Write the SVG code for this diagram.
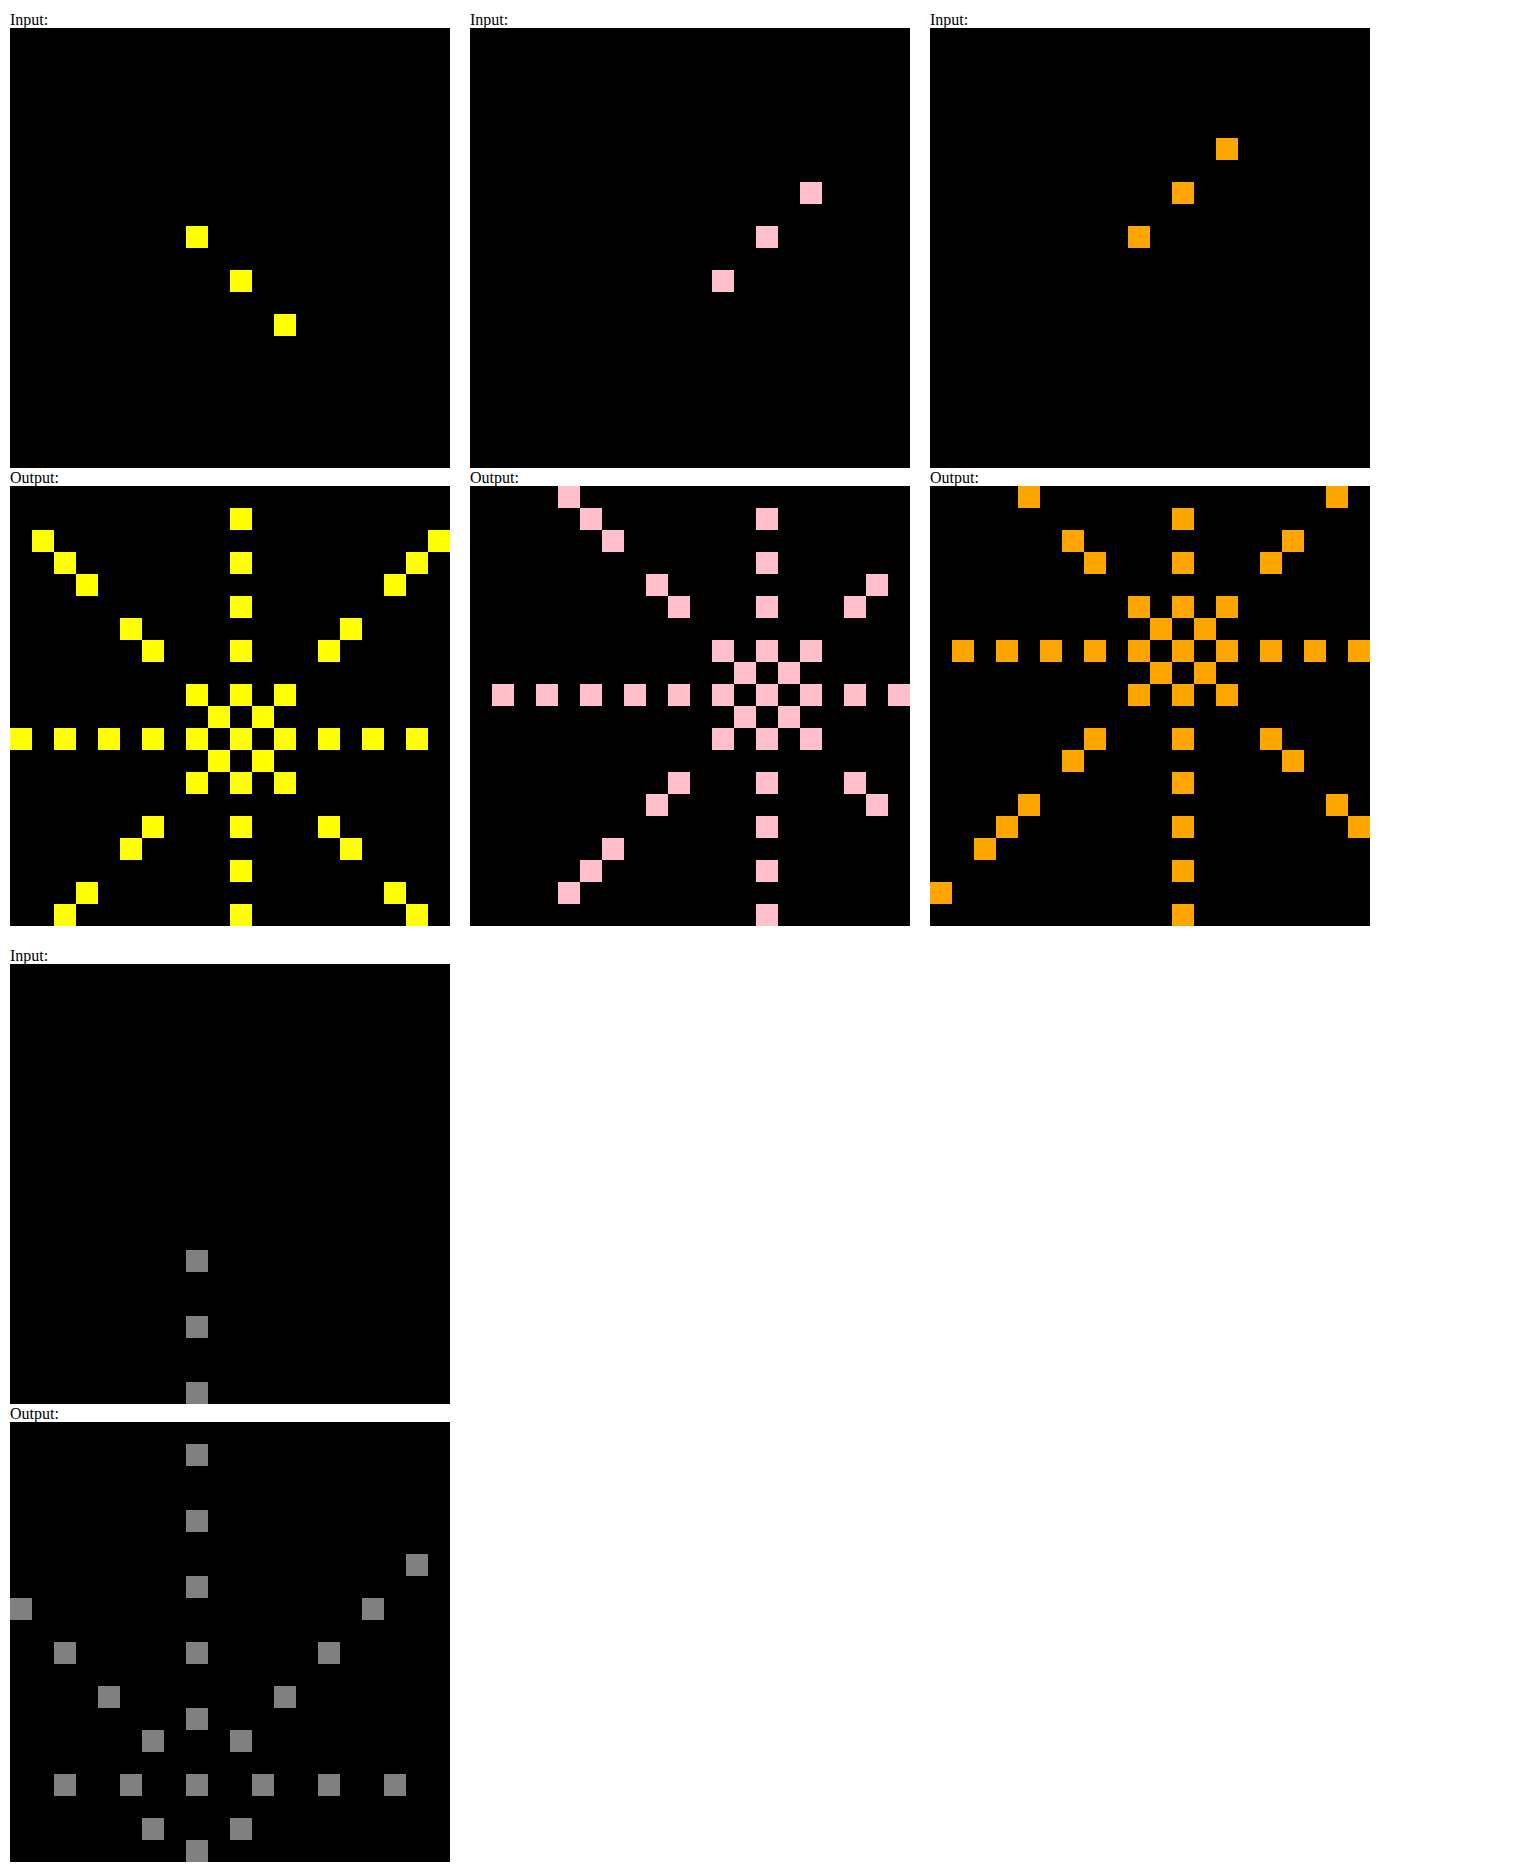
<svg xmlns="http://www.w3.org/2000/svg" width="1520" height="1872" viewBox="0 0 1520 1872">
<style>
.lbl{font-family:"Liberation Serif","Times New Roman",serif;font-size:16px;fill:#000}
.bg{fill:#000}
.y{fill:#ffff00}
.p{fill:#ffc0cb}
.o{fill:#ffa500}
.g{fill:#808080}
</style>
<defs><rect id="c" width="22" height="22"/></defs>
<rect width="1520" height="1872" fill="#fff"/>

<g id="ex1-input">
<text class="lbl" x="10" y="25">Input:</text>
<g transform="translate(10,28)" class="y">
<rect class="bg" width="440" height="440"/>
<use href="#c" x="176" y="198"/><use href="#c" x="220" y="242"/><use href="#c" x="264" y="286"/>
</g>
</g>

<g id="ex1-output">
<text class="lbl" x="10" y="483">Output:</text>
<g transform="translate(10,486)" class="y">
<rect class="bg" width="440" height="440"/>
<use href="#c" x="220" y="22"/>
<use href="#c" x="22" y="44"/><use href="#c" x="418" y="44"/>
<use href="#c" x="44" y="66"/><use href="#c" x="220" y="66"/><use href="#c" x="396" y="66"/>
<use href="#c" x="66" y="88"/><use href="#c" x="374" y="88"/>
<use href="#c" x="220" y="110"/>
<use href="#c" x="110" y="132"/><use href="#c" x="330" y="132"/>
<use href="#c" x="132" y="154"/><use href="#c" x="220" y="154"/><use href="#c" x="308" y="154"/>
<use href="#c" x="176" y="198"/><use href="#c" x="220" y="198"/><use href="#c" x="264" y="198"/>
<use href="#c" x="198" y="220"/><use href="#c" x="242" y="220"/>
<use href="#c" x="0" y="242"/><use href="#c" x="44" y="242"/><use href="#c" x="88" y="242"/><use href="#c" x="132" y="242"/><use href="#c" x="176" y="242"/><use href="#c" x="220" y="242"/><use href="#c" x="264" y="242"/><use href="#c" x="308" y="242"/><use href="#c" x="352" y="242"/><use href="#c" x="396" y="242"/>
<use href="#c" x="198" y="264"/><use href="#c" x="242" y="264"/>
<use href="#c" x="176" y="286"/><use href="#c" x="220" y="286"/><use href="#c" x="264" y="286"/>
<use href="#c" x="132" y="330"/><use href="#c" x="220" y="330"/><use href="#c" x="308" y="330"/>
<use href="#c" x="110" y="352"/><use href="#c" x="330" y="352"/>
<use href="#c" x="220" y="374"/>
<use href="#c" x="66" y="396"/><use href="#c" x="374" y="396"/>
<use href="#c" x="44" y="418"/><use href="#c" x="220" y="418"/><use href="#c" x="396" y="418"/>
</g>
</g>

<g id="ex2-input">
<text class="lbl" x="470" y="25">Input:</text>
<g transform="translate(470,28)" class="p">
<rect class="bg" width="440" height="440"/>
<use href="#c" x="330" y="154"/><use href="#c" x="286" y="198"/><use href="#c" x="242" y="242"/>
</g>
</g>

<g id="ex2-output">
<text class="lbl" x="470" y="483">Output:</text>
<g transform="translate(470,486)" class="p">
<rect class="bg" width="440" height="440"/>
<use href="#c" x="88" y="0"/>
<use href="#c" x="110" y="22"/><use href="#c" x="286" y="22"/>
<use href="#c" x="132" y="44"/>
<use href="#c" x="286" y="66"/>
<use href="#c" x="176" y="88"/><use href="#c" x="396" y="88"/>
<use href="#c" x="198" y="110"/><use href="#c" x="286" y="110"/><use href="#c" x="374" y="110"/>
<use href="#c" x="242" y="154"/><use href="#c" x="286" y="154"/><use href="#c" x="330" y="154"/>
<use href="#c" x="264" y="176"/><use href="#c" x="308" y="176"/>
<use href="#c" x="22" y="198"/><use href="#c" x="66" y="198"/><use href="#c" x="110" y="198"/><use href="#c" x="154" y="198"/><use href="#c" x="198" y="198"/><use href="#c" x="242" y="198"/><use href="#c" x="286" y="198"/><use href="#c" x="330" y="198"/><use href="#c" x="374" y="198"/><use href="#c" x="418" y="198"/>
<use href="#c" x="264" y="220"/><use href="#c" x="308" y="220"/>
<use href="#c" x="242" y="242"/><use href="#c" x="286" y="242"/><use href="#c" x="330" y="242"/>
<use href="#c" x="198" y="286"/><use href="#c" x="286" y="286"/><use href="#c" x="374" y="286"/>
<use href="#c" x="176" y="308"/><use href="#c" x="396" y="308"/>
<use href="#c" x="286" y="330"/>
<use href="#c" x="132" y="352"/>
<use href="#c" x="110" y="374"/><use href="#c" x="286" y="374"/>
<use href="#c" x="88" y="396"/>
<use href="#c" x="286" y="418"/>
</g>
</g>

<g id="ex3-input">
<text class="lbl" x="930" y="25">Input:</text>
<g transform="translate(930,28)" class="o">
<rect class="bg" width="440" height="440"/>
<use href="#c" x="286" y="110"/><use href="#c" x="242" y="154"/><use href="#c" x="198" y="198"/>
</g>
</g>

<g id="ex3-output">
<text class="lbl" x="930" y="483">Output:</text>
<g transform="translate(930,486)" class="o">
<rect class="bg" width="440" height="440"/>
<use href="#c" x="88" y="0"/><use href="#c" x="396" y="0"/>
<use href="#c" x="242" y="22"/>
<use href="#c" x="132" y="44"/><use href="#c" x="352" y="44"/>
<use href="#c" x="154" y="66"/><use href="#c" x="242" y="66"/><use href="#c" x="330" y="66"/>
<use href="#c" x="198" y="110"/><use href="#c" x="242" y="110"/><use href="#c" x="286" y="110"/>
<use href="#c" x="220" y="132"/><use href="#c" x="264" y="132"/>
<use href="#c" x="22" y="154"/><use href="#c" x="66" y="154"/><use href="#c" x="110" y="154"/><use href="#c" x="154" y="154"/><use href="#c" x="198" y="154"/><use href="#c" x="242" y="154"/><use href="#c" x="286" y="154"/><use href="#c" x="330" y="154"/><use href="#c" x="374" y="154"/><use href="#c" x="418" y="154"/>
<use href="#c" x="220" y="176"/><use href="#c" x="264" y="176"/>
<use href="#c" x="198" y="198"/><use href="#c" x="242" y="198"/><use href="#c" x="286" y="198"/>
<use href="#c" x="154" y="242"/><use href="#c" x="242" y="242"/><use href="#c" x="330" y="242"/>
<use href="#c" x="132" y="264"/><use href="#c" x="352" y="264"/>
<use href="#c" x="242" y="286"/>
<use href="#c" x="88" y="308"/><use href="#c" x="396" y="308"/>
<use href="#c" x="66" y="330"/><use href="#c" x="242" y="330"/><use href="#c" x="418" y="330"/>
<use href="#c" x="44" y="352"/>
<use href="#c" x="242" y="374"/>
<use href="#c" x="0" y="396"/>
<use href="#c" x="242" y="418"/>
</g>
</g>

<g id="test-input">
<text class="lbl" x="10" y="961">Input:</text>
<g transform="translate(10,964)" class="g">
<rect class="bg" width="440" height="440"/>
<use href="#c" x="176" y="286"/><use href="#c" x="176" y="352"/><use href="#c" x="176" y="418"/>
</g>
</g>

<g id="test-output">
<text class="lbl" x="10" y="1419">Output:</text>
<g transform="translate(10,1422)" class="g">
<rect class="bg" width="440" height="440"/>
<use href="#c" x="176" y="22"/>
<use href="#c" x="176" y="88"/>
<use href="#c" x="396" y="132"/>
<use href="#c" x="176" y="154"/>
<use href="#c" x="0" y="176"/><use href="#c" x="352" y="176"/>
<use href="#c" x="44" y="220"/><use href="#c" x="176" y="220"/><use href="#c" x="308" y="220"/>
<use href="#c" x="88" y="264"/><use href="#c" x="264" y="264"/>
<use href="#c" x="176" y="286"/>
<use href="#c" x="132" y="308"/><use href="#c" x="220" y="308"/>
<use href="#c" x="44" y="352"/><use href="#c" x="110" y="352"/><use href="#c" x="176" y="352"/><use href="#c" x="242" y="352"/><use href="#c" x="308" y="352"/><use href="#c" x="374" y="352"/>
<use href="#c" x="132" y="396"/><use href="#c" x="220" y="396"/>
<use href="#c" x="176" y="418"/>
</g>
</g>
</svg>
